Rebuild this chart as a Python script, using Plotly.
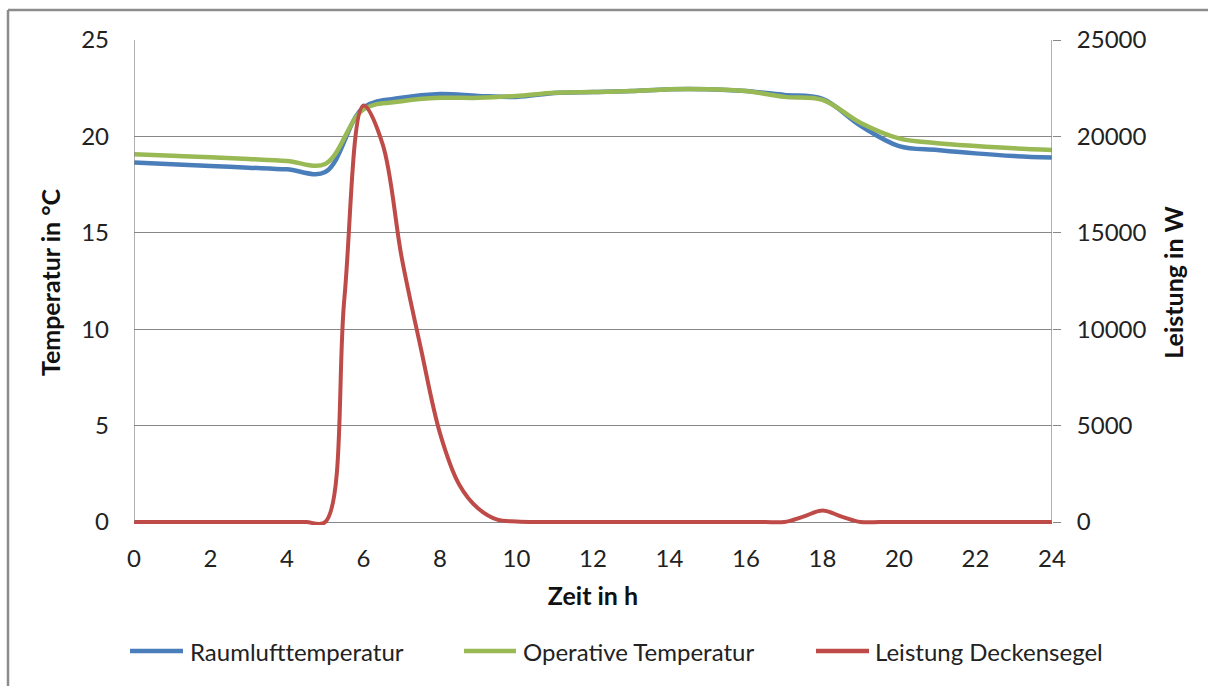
import plotly.graph_objects as go

# Hourly temperatures over one day
hours = list(range(25))
raumlufttemperatur = [18.65, 18.56, 18.47, 18.38, 18.29, 18.15, 21.5, 22.0, 22.2, 22.1,
                      22.05, 22.25, 22.3, 22.35, 22.45, 22.45, 22.35, 22.15, 21.95, 20.55,
                      19.5, 19.3, 19.12, 18.98, 18.9]
operative_temperatur = [19.08, 19.0, 18.92, 18.83, 18.73, 18.57, 21.4, 21.82, 22.0, 22.0,
                        22.1, 22.27, 22.3, 22.35, 22.45, 22.45, 22.35, 22.05, 21.9, 20.7,
                        19.9, 19.65, 19.5, 19.38, 19.3]

# Ceiling panel output, half-hourly
half_hours = [i / 2 for i in range(49)]
leistung_deckensegel = [0, 0, 0, 0, 0, 0, 0, 0, 0, 0,          # 0.0 - 4.5
                        0, 11600, 21600, 19600, 13700, 9000,   # 5.0 - 7.5
                        4600, 1950, 700, 120, 30, 0, 0, 0,     # 8.0 - 11.5
                        0, 0, 0, 0, 0, 0, 0, 0, 0, 0,          # 12.0 - 16.5
                        0, 280, 600, 280, 0, 0, 0, 0, 0, 0,    # 17.0 - 21.5
                        0, 0, 0, 0, 0]                         # 22.0 - 24.0

series_names = ["Raumlufttemperatur", "Operative Temperatur", "Leistung Deckensegel"]
colors = ["#4A7EBB", "#98B954", "#BE4B48"]
x_ticks = list(range(0, 25, 2))
temp_ticks = [0, 5, 10, 15, 20, 25]
power_ticks = [0, 5000, 10000, 15000, 20000, 25000]

FONT = "Lato"
GRID = "#878787"
TXT = "#222222"

# plot area geometry (pixels)
W, H = 1208, 686
L, R, T = 134, 1052, 40
Y0 = 522           # pixel row of the zero line
EXT = 3            # extra pixels below zero so the zero-level line is not clipped
B = Y0 + EXT
px_per_deg = (Y0 - T) / 25.0
lo_t = -EXT / px_per_deg
lo_p = lo_t * 1000

fig = go.Figure()
fig.add_trace(go.Scatter(x=hours, y=raumlufttemperatur, name=series_names[0], mode="lines",
                         line=dict(color=colors[0], width=4.5, shape="spline", smoothing=1),
                         showlegend=False))
fig.add_trace(go.Scatter(x=hours, y=operative_temperatur, name=series_names[1], mode="lines",
                         line=dict(color=colors[1], width=4.5, shape="spline", smoothing=1),
                         showlegend=False))
fig.add_trace(go.Scatter(x=half_hours, y=leistung_deckensegel, name=series_names[2],
                         mode="lines", yaxis="y2",
                         line=dict(color=colors[2], width=4, shape="spline", smoothing=1),
                         showlegend=False))


def px_x(p):
    return (p - L) / (R - L)


def px_y(p):
    return (B - p) / (B - T)


shapes = [
    # left and right axis lines
    dict(type="line", xref="x", yref="y", x0=0, x1=0, y0=0, y1=25,
         line=dict(color=GRID, width=1.3)),
    dict(type="line", xref="x", yref="y", x0=24, x1=24, y0=0, y1=25,
         line=dict(color=GRID, width=1.3)),
    # outer chart frame
    dict(type="line", xref="paper", yref="paper", x0=px_x(8), x1=px_x(1210),
         y0=px_y(10), y1=px_y(10), line=dict(color="#8C8C8C", width=2.5)),
    dict(type="line", xref="paper", yref="paper", x0=px_x(8), x1=px_x(8),
         y0=px_y(10), y1=px_y(690), line=dict(color="#8C8C8C", width=2.5)),
]

# legend drawn as line samples with labels
legend_line_x = [(130, 183), (464, 516), (816, 869)]
legend_text_x = [188, 521, 873]
legend_y = 651
annotations = []
for name, col, (a, b), tx in zip(series_names, colors, legend_line_x, legend_text_x):
    shapes.append(dict(type="line", xref="paper", yref="paper", x0=px_x(a), x1=px_x(b),
                       y0=px_y(legend_y), y1=px_y(legend_y),
                       line=dict(color=col, width=4.5)))
    annotations.append(dict(xref="paper", yref="paper", x=px_x(tx), y=px_y(legend_y),
                            xanchor="left", yanchor="middle", text=name, showarrow=False,
                            font=dict(family=FONT, size=24, color=TXT)))

fig.update_layout(
    width=W, height=H,
    margin=dict(l=L, r=W - R, t=T, b=H - B, pad=0),
    paper_bgcolor="white", plot_bgcolor="white",
    font=dict(family=FONT, size=24, color=TXT),
    shapes=shapes, annotations=annotations,
    xaxis=dict(range=[0, 24], tickvals=x_ticks, showgrid=False, zeroline=False,
               showline=False, ticks="", ticklabelstandoff=17,
               tickfont=dict(family=FONT, size=24, color=TXT),
               title=dict(text="<b>Zeit in h</b>", standoff=16,
                          font=dict(family=FONT, size=25, color="#111111"))),
    yaxis=dict(range=[lo_t, 25], tickvals=temp_ticks, showgrid=True, gridcolor=GRID,
               gridwidth=1.3, zeroline=False, showline=False, ticks="",
               ticklabelstandoff=24,
               tickfont=dict(family=FONT, size=24, color=TXT),
               title=dict(text="<b>Temperatur in °C</b>", standoff=13,
                          font=dict(family=FONT, size=25, color="#111111"))),
    yaxis2=dict(range=[lo_p, 25000], tickvals=power_ticks, tickformat="d",
                overlaying="y", side="right",
                showgrid=False, zeroline=False, showline=False, ticks="outside",
                ticklen=8, tickcolor=GRID, tickwidth=1.3, ticklabelstandoff=11,
                tickfont=dict(family=FONT, size=24, color=TXT),
                title=dict(text="<b>Leistung in W</b>", standoff=20,
                           font=dict(family=FONT, size=25, color="#111111"))),
)

fig.write_html("out.html")
